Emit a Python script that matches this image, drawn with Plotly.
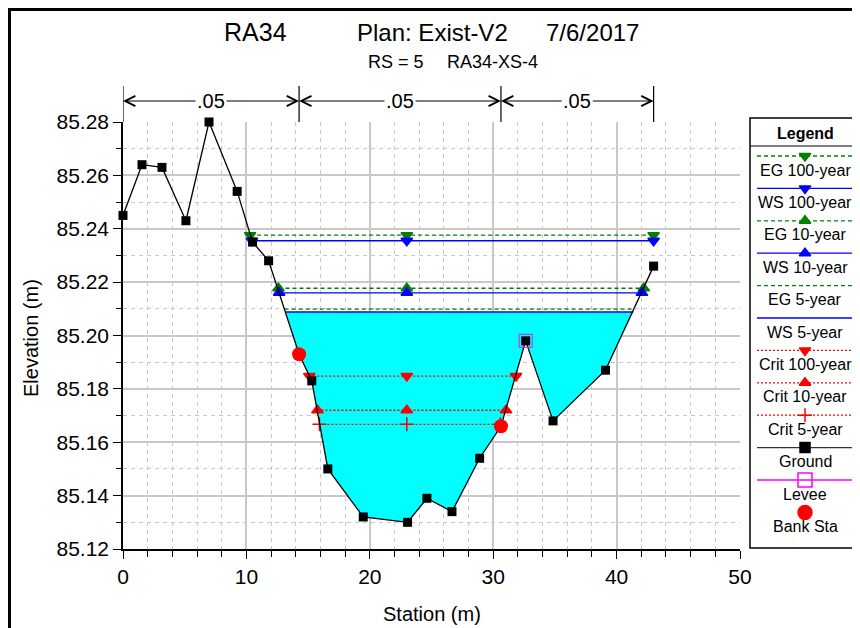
import plotly.graph_objects as go

# ground profile (station m, elevation m)
ground_sta = [0.0, 1.54, 3.16, 5.1, 6.97, 9.25, 10.5, 11.8, 14.27, 15.3, 16.6, 19.47,
              23.06, 24.63, 26.66, 28.9, 30.63, 32.63, 34.85, 39.1, 43.0]
ground_elev = [85.245, 85.264, 85.263, 85.243, 85.280, 85.254, 85.235, 85.228, 85.193,
               85.183, 85.150, 85.132, 85.130, 85.139, 85.134, 85.154, 85.166, 85.198,
               85.168, 85.187, 85.226]

# energy grade / water surface / critical lines
eg100_sta, eg100_elev = [10.3, 23.0, 43.0], 85.2376
ws100_sta, ws100_elev = [10.45, 23.0, 43.0], 85.2355
eg10_sta, eg10_elev = [12.6, 23.0, 42.2], 85.2177
ws10_sta, ws10_elev = [12.65, 23.0, 42.05], 85.2160
eg5_sta, eg5_elev = [13.1, 41.4], 85.2099
ws5_sta, ws5_elev = [13.15, 41.35], 85.2088
crit100_sta, crit100_elev = [15.1, 23.0, 31.85], 85.1848
crit10_sta, crit10_elev = [15.76, 23.0, 31.04], 85.1720
crit5_sta, crit5_elev = [15.92, 23.0, 30.57], 85.1667

levee_sta, levee_elev = [32.63], [85.198]
bank_sta, bank_elev = [14.27, 30.63], [85.193, 85.166]

# manning's n regions
n_breaks = [0.0, 14.27, 30.63, 43.0]
n_values = [".05", ".05", ".05"]

FONT = "Liberation Sans, Arial, sans-serif"
GREEN, BLUE, RED, MAG = "#008000", "#0000ff", "#ff0000", "#ff00ff"
EG_DASH, CRIT_DASH = "4px,3px", "2px,2px"

# the page renders the figure ~12px narrower than asked, and shifted 8px by body margin
FIG_W, FIG_H = 872, 628
L, T, B, R = 115, 114, 87, 10
W, H = 860 - L - R, FIG_H - T - B


def px_x(p):
    # screen pixel -> paper x
    return (p - 8 - L) / W


def px_y(p):
    # screen pixel -> paper y
    return (FIG_H - B - (p - 8)) / H


fig = go.Figure()

# water fill under WS 5-year
inside = [(s, e) for s, e in zip(ground_sta, ground_elev) if ws5_sta[0] < s < ws5_sta[-1]]
poly_x = [ws5_sta[0]] + [s for s, _ in inside] + [ws5_sta[-1]]
poly_y = [ws5_elev] + [e for _, e in inside] + [ws5_elev]
fig.add_trace(go.Scatter(x=poly_x, y=poly_y, fill="toself", fillcolor="#00ffff",
                         mode="lines", line=dict(width=0), hoverinfo="skip"))

profiles = [
    (eg100_sta, eg100_elev, GREEN, EG_DASH, "triangle-down"),
    (ws100_sta, ws100_elev, BLUE, "solid", "triangle-down"),
    (eg10_sta, eg10_elev, GREEN, EG_DASH, "triangle-up"),
    (ws10_sta, ws10_elev, BLUE, "solid", "triangle-up"),
    (eg5_sta, eg5_elev, GREEN, EG_DASH, None),
    (ws5_sta, ws5_elev, BLUE, "solid", None),
    (crit100_sta, crit100_elev, RED, CRIT_DASH, "triangle-down"),
    (crit10_sta, crit10_elev, RED, CRIT_DASH, "triangle-up"),
    (crit5_sta, crit5_elev, RED, CRIT_DASH, "cross-thin"),
]
for sta, elev, col, dash, sym in profiles:
    fig.add_trace(go.Scatter(x=[sta[0], sta[-1]], y=[elev, elev], mode="lines",
                             line=dict(color=col, width=1.3, dash=dash), hoverinfo="skip"))
    if sym:
        fig.add_trace(go.Scatter(x=sta, y=[elev] * len(sta), mode="markers",
                                 marker=dict(symbol=sym, color=col, size=10,
                                             line=dict(color=col, width=1.5)),
                                 hoverinfo="skip"))

fig.add_trace(go.Scatter(x=ground_sta, y=ground_elev, mode="lines+markers", cliponaxis=False,
                         line=dict(color="black", width=1.3),
                         marker=dict(symbol="square", color="black", size=9)))
fig.add_trace(go.Scatter(x=levee_sta, y=levee_elev, mode="markers",
                         marker=dict(symbol="square-open", color=MAG, size=13, line=dict(width=1))))
fig.add_trace(go.Scatter(x=bank_sta, y=bank_elev, mode="markers",
                         marker=dict(symbol="circle", color=RED, size=14)))

# ----- custom legend on its own hidden axes (screen pixel units) -----
legend_items = [
    ("EG 100-year", GREEN, EG_DASH, "triangle-down"),
    ("WS 100-year", BLUE, "solid", "triangle-down"),
    ("EG 10-year", GREEN, EG_DASH, "triangle-up"),
    ("WS 10-year", BLUE, "solid", "triangle-up"),
    ("EG 5-year", GREEN, EG_DASH, None),
    ("WS 5-year", BLUE, "solid", None),
    ("Crit 100-year", RED, CRIT_DASH, "triangle-down"),
    ("Crit 10-year", RED, CRIT_DASH, "triangle-up"),
    ("Crit 5-year", RED, CRIT_DASH, "cross-thin"),
    ("Ground", "#333333", "solid", "square"),
    ("Levee", MAG, "solid", "square-open"),
    ("Bank Sta", RED, None, "circle"),
]
LEG_L, LEG_R = 750, 8 + L + W
annotations = []
for i, (name, col, dash, sym) in enumerate(legend_items):
    ly = 156 + 32.4 * i
    if dash:
        fig.add_trace(go.Scatter(x=[757, 854], y=[ly, ly], mode="lines", xaxis="x2", yaxis="y2",
                                 line=dict(color=col, width=1.3, dash=dash), hoverinfo="skip"))
    if sym:
        size = {"square-open": 14, "circle": 14, "square": 10}.get(sym, 10)
        mcol = "black" if sym == "square" else col
        fig.add_trace(go.Scatter(x=[805], y=[ly], mode="markers", xaxis="x2", yaxis="y2",
                                 marker=dict(symbol=sym, color=mcol, size=size,
                                             line=dict(color=mcol, width=1.5)),
                                 hoverinfo="skip"))
    annotations.append(dict(x=805, y=ly + 14, xref="x2", yref="y2", text=name, showarrow=False,
                            font=dict(size=16, color="black", family=FONT)))
annotations.append(dict(x=805, y=133, xref="x2", yref="y2", text="<b>Legend</b>", showarrow=False,
                        font=dict(size=16, color="black", family=FONT)))

# manning's n labels with double arrows
shapes = []
for s in n_breaks:
    shapes.append(dict(type="line", xref="x", yref="paper", x0=s, x1=s, y0=1.0, y1=px_y(86),
                       line=dict(color="black", width=1.2)))
for (a, b), nv in zip(zip(n_breaks[:-1], n_breaks[1:]), n_values):
    mid = (a + b) / 2
    for k, end in enumerate((a, b)):
        annotations.append(dict(x=end, y=px_y(101), xref="x", yref="paper", ax=mid, ay=0,
                                axref="x", ayref="pixel", text=nv, showarrow=True,
                                arrowhead=5, arrowsize=2, arrowwidth=1, arrowcolor="black",
                                font=dict(size=20, family=FONT,
                                          color="black" if k == 0 else "rgba(0,0,0,0)")))

# titles
for txt, cx, cy, sz in [("RA34", 255, 32, 25), ("Plan: Exist-V2", 432, 32, 24),
                        ("7/6/2017", 592, 32, 24), ("RS = 5", 396, 62, 18),
                        ("RA34-XS-4", 492, 62, 18)]:
    annotations.append(dict(x=px_x(cx), y=px_y(cy), xref="paper", yref="paper", text=txt,
                            xanchor="center", yanchor="middle", showarrow=False,
                            font=dict(size=sz, color="black", family=FONT)))
annotations.append(dict(x=px_x(432), y=px_y(614), xref="paper", yref="paper", text="Station (m)",
                        xanchor="center", yanchor="middle", showarrow=False,
                        font=dict(size=20, color="black", family=FONT)))
annotations.append(dict(x=px_x(31), y=px_y(338), xref="paper", yref="paper", text="Elevation (m)",
                        xanchor="center", yanchor="middle", textangle=-90, showarrow=False,
                        font=dict(size=20, color="black", family=FONT)))

# legend frame and separator, outer frame
shapes.append(dict(type="rect", xref="paper", yref="paper", x0=px_x(LEG_L), x1=px_x(LEG_R - 0.5),
                   y0=px_y(548), y1=px_y(118), line=dict(color="black", width=1.5)))
shapes.append(dict(type="line", xref="paper", yref="paper", x0=px_x(LEG_L), x1=px_x(LEG_R - 0.5),
                   y0=px_y(146), y1=px_y(146), line=dict(color="black", width=1.2)))
shapes.append(dict(type="rect", xref="paper", yref="paper", x0=px_x(9.5), x1=px_x(900),
                   y0=px_y(700), y1=px_y(9.5), line=dict(color="black", width=3)))

grid = "#c8c8c8"
fig.update_layout(
    width=FIG_W, height=FIG_H, autosize=False, showlegend=False,
    margin=dict(l=L, r=R, t=T, b=B),
    paper_bgcolor="white", plot_bgcolor="white",
    font=dict(family=FONT, size=20, color="black"),
    xaxis=dict(domain=[0, px_x(740)], range=[0, 50], dtick=10, tick0=0,
               showgrid=True, gridcolor=grid, gridwidth=1.5, zeroline=False,
               showline=True, linecolor="black", linewidth=1.5,
               ticks="outside", ticklen=8, tickcolor="black",
               tickfont=dict(size=21),
               minor=dict(dtick=2, showgrid=True, gridcolor=grid, griddash="4px,4px",
                          gridwidth=1, ticks="outside", ticklen=6, tickcolor="black")),
    yaxis=dict(range=[85.12, 85.28], dtick=0.02, tick0=85.12, tickformat=".2f",
               showgrid=True, gridcolor=grid, gridwidth=1.5, zeroline=False,
               showline=True, linecolor="black", linewidth=1.5,
               ticks="outside", ticklen=8, tickcolor="black",
               tickfont=dict(size=21),
               minor=dict(dtick=0.01, showgrid=True, gridcolor=grid, griddash="4px,4px",
                          gridwidth=1, ticks="outside", ticklen=5, tickcolor="black")),
    xaxis2=dict(domain=[px_x(LEG_L), px_x(LEG_R)], range=[LEG_L, LEG_R], visible=False, anchor="y2"),
    yaxis2=dict(domain=[0, 1], range=[549, 122], visible=False, anchor="x2"),
    shapes=shapes, annotations=annotations,
)

fig.write_html("out.html")
